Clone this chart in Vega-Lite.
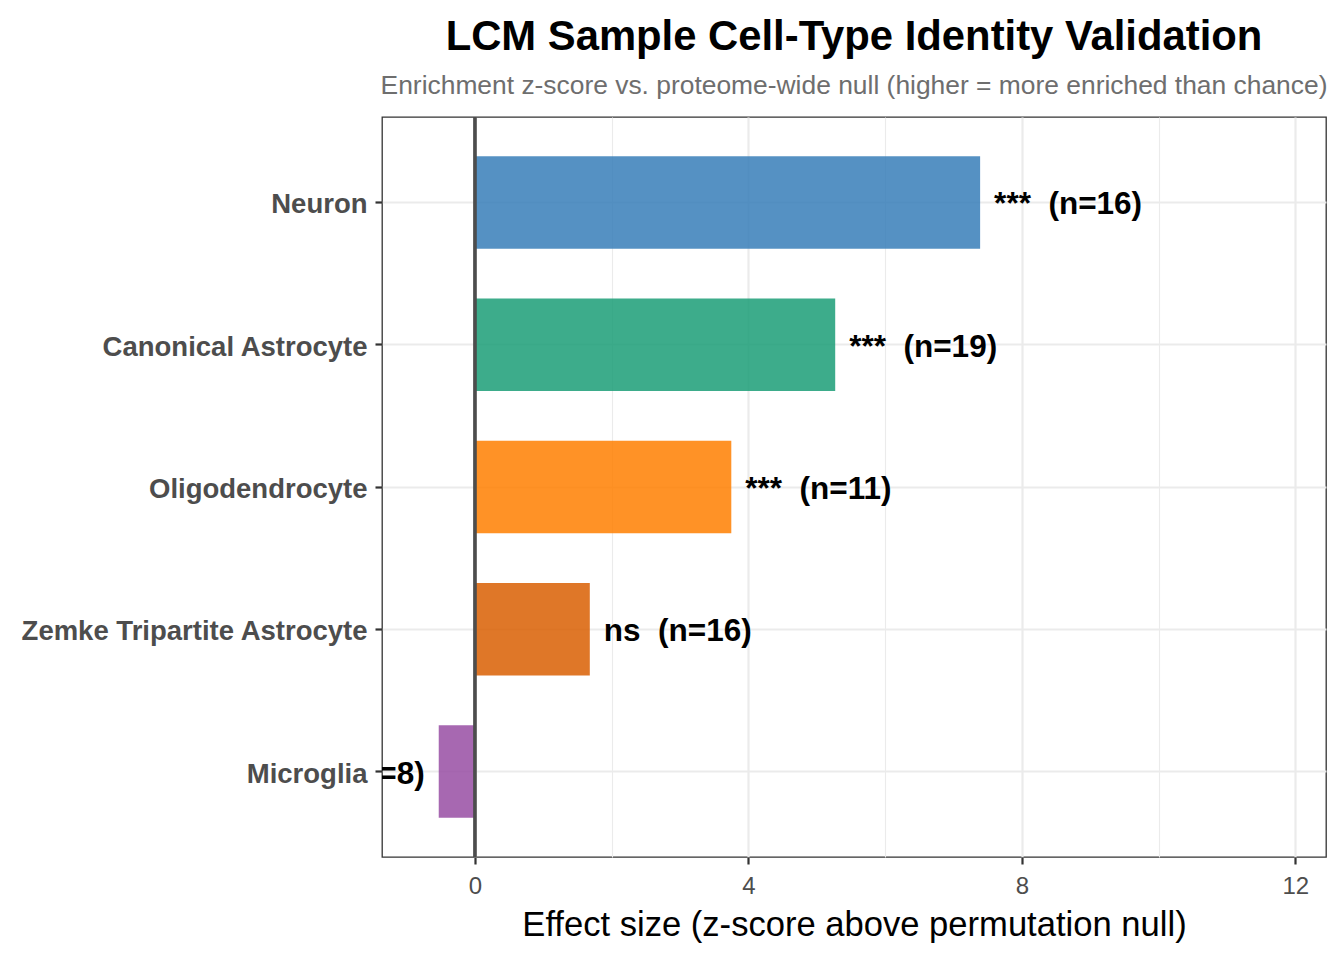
{
  "$schema": "https://vega.github.io/schema/vega-lite/v6.json",
  "width": 944,
  "height": 740,
  "autosize": {"type": "none"},
  "padding": {"left": 382, "top": 117, "right": 18, "bottom": 103},
  "background": "white",
  "config": {
    "font": "Liberation Sans",
    "view": {"stroke": "#333333", "strokeWidth": 1.3}
  },
  "title": {
    "text": "LCM Sample Cell-Type Identity Validation",
    "subtitle": "Enrichment z-score vs. proteome-wide null (higher = more enriched than chance)",
    "anchor": "middle",
    "frame": "group",
    "font": "Liberation Sans",
    "fontSize": 41.8,
    "fontWeight": "bold",
    "color": "black",
    "subtitleFont": "Liberation Sans",
    "subtitleFontSize": 26.4,
    "subtitleColor": "#6E6E6E",
    "subtitlePadding": 15,
    "offset": 16
  },
  "data": {
    "values": [
      {"cell_type": "Neuron", "value": 7.39, "label": "***\u00a0\u00a0(n=16)"},
      {"cell_type": "Canonical Astrocyte", "value": 5.27, "label": "***\u00a0\u00a0(n=19)"},
      {"cell_type": "Oligodendrocyte", "value": 3.75, "label": "***\u00a0\u00a0(n=11)"},
      {"cell_type": "Zemke Tripartite Astrocyte", "value": 1.68, "label": "ns\u00a0\u00a0(n=16)"},
      {"cell_type": "Microglia", "value": -0.53, "label": "ns\u00a0\u00a0(n=8)"}
    ]
  },
  "encoding": {
    "y": {
      "field": "cell_type",
      "type": "nominal",
      "sort": ["Neuron", "Canonical Astrocyte", "Oligodendrocyte", "Zemke Tripartite Astrocyte", "Microglia"],
      "scale": {"paddingInner": 0.35, "paddingOuter": 0.275},
      "axis": {
        "title": null,
        "domain": false,
        "grid": true,
        "gridColor": "#EBEBEB",
        "gridWidth": 2.2,
        "labelFont": "Liberation Sans",
        "labelFontSize": 27.5,
        "labelFontWeight": "bold",
        "labelColor": "#4D4D4D",
        "labelPadding": 8,
        "labelLimit": 0,
        "labelOffset": 3,
        "tickColor": "#333333",
        "tickWidth": 2.2,
        "tickSize": 7
      }
    },
    "x": {
      "field": "value",
      "type": "quantitative",
      "scale": {"domain": [-1.36, 12.45], "nice": false, "zero": false},
      "axis": {
        "values": [0, 2, 4, 6, 8, 10, 12],
        "labelExpr": "datum.value % 4 === 0 ? datum.label : ''",
        "domain": false,
        "grid": true,
        "gridColor": "#EBEBEB",
        "gridWidth": {"condition": {"test": "datum.value % 4 === 0", "value": 2.2}, "value": 1.1},
        "tickOpacity": {"condition": {"test": "datum.value % 4 === 0", "value": 1}, "value": 0},
        "tickColor": "#333333",
        "tickWidth": 2.2,
        "tickSize": 7,
        "labelFont": "Liberation Sans",
        "labelFontSize": 24,
        "labelColor": "#4D4D4D",
        "labelPadding": 10,
        "title": "Effect size (z-score above permutation null)",
        "titleFont": "Liberation Sans",
        "titleFontSize": 34.6,
        "titleFontWeight": "normal",
        "titleColor": "black",
        "titlePadding": 10
      }
    }
  },
  "layer": [
    {
      "mark": {"type": "bar", "opacity": 0.85},
      "encoding": {
        "color": {
          "field": "cell_type",
          "type": "nominal",
          "scale": {
            "domain": ["Neuron", "Canonical Astrocyte", "Oligodendrocyte", "Zemke Tripartite Astrocyte", "Microglia"],
            "range": ["#377EB8", "#1B9E77", "#FF7F00", "#D95F02", "#984EA3"]
          },
          "legend": null
        }
      }
    },
    {
      "mark": {"type": "rule", "color": "#4D4D4D", "strokeWidth": 2.6},
      "encoding": {"x": {"datum": 0}, "y": null}
    },
    {
      "transform": [{"filter": "datum.value >= 0"}],
      "mark": {"type": "text", "align": "left", "baseline": "middle", "dx": 14, "dy": 3, "fontSize": 31.5, "fontWeight": "bold", "color": "black", "clip": true},
      "encoding": {"text": {"field": "label"}}
    },
    {
      "transform": [{"filter": "datum.value < 0"}],
      "mark": {"type": "text", "align": "right", "baseline": "middle", "dx": -14, "dy": 3, "fontSize": 31.5, "fontWeight": "bold", "color": "black", "clip": true},
      "encoding": {"text": {"field": "label"}}
    }
  ]
}
